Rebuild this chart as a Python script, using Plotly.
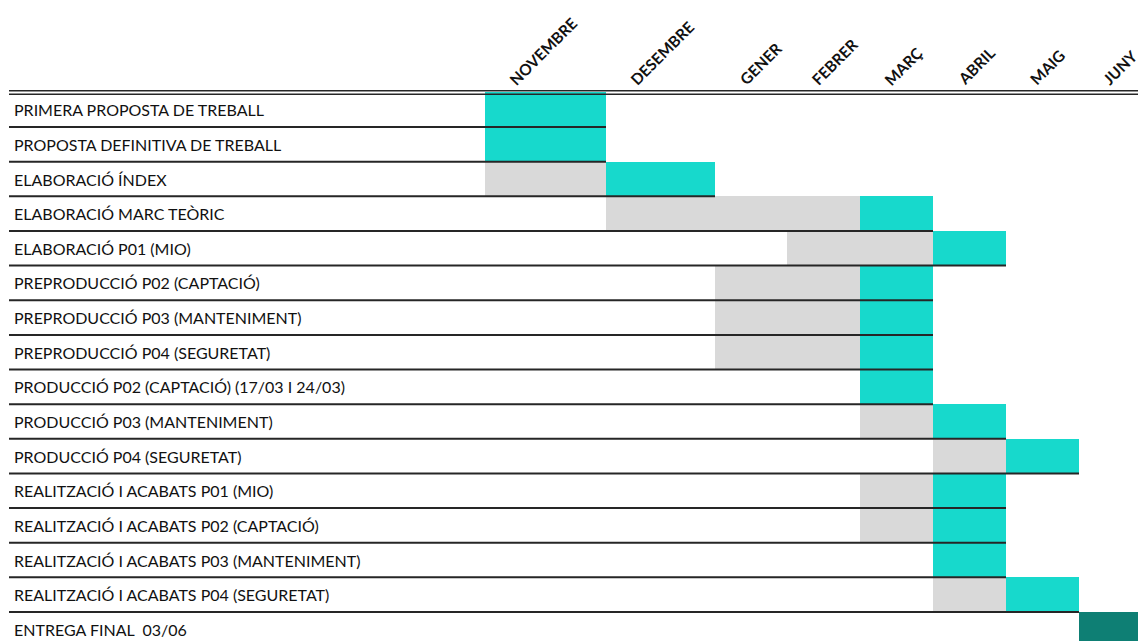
import plotly.graph_objects as go

# ---------------- data ----------------
months = ["NOVEMBRE", "DESEMBRE", "GENER", "FEBRER", "MARÇ", "ABRIL", "MAIG", "JUNY"]

tasks = [
    "PRIMERA PROPOSTA DE TREBALL",
    "PROPOSTA DEFINITIVA DE TREBALL",
    "ELABORACIÓ ÍNDEX",
    "ELABORACIÓ MARC TEÒRIC",
    "ELABORACIÓ P01 (MIO)",
    "PREPRODUCCIÓ P02 (CAPTACIÓ)",
    "PREPRODUCCIÓ P03 (MANTENIMENT)",
    "PREPRODUCCIÓ P04 (SEGURETAT)",
    "PRODUCCIÓ P02 (CAPTACIÓ) (17/03 I 24/03)",
    "PRODUCCIÓ P03 (MANTENIMENT)",
    "PRODUCCIÓ P04 (SEGURETAT)",
    "REALITZACIÓ I ACABATS P01 (MIO)",
    "REALITZACIÓ I ACABATS P02 (CAPTACIÓ)",
    "REALITZACIÓ I ACABATS P03 (MANTENIMENT)",
    "REALITZACIÓ I ACABATS P04 (SEGURETAT)",
    "ENTREGA FINAL  03/06",
]

# month indices (0 = NOVEMBRE ... 7 = JUNY); None = no preparatory phase
prep_start = [None, None, 0, 1, 3, 2, 2, 2, None, 4, 5, 4, 4, None, 5, None]
active_start = [0, 0, 1, 4, 5, 4, 4, 4, 4, 5, 6, 5, 5, 5, 6, 7]
active_end = [1, 1, 2, 5, 6, 5, 5, 5, 5, 6, 7, 6, 6, 6, 7, 8]
is_final = [False] * 15 + [True]

# ---------------- layout / style ----------------
W, H = 1138, 641
label_col = 485            # px width of the task-label column
col_widths = [121, 109, 72, 73, 73, 73, 73, 73]
row_h = 34.64
table_top = 92.4

edges = [0]
for w in col_widths:
    edges.append(edges[-1] + w)

TEAL = "#17D9CC"
GREY = "#D9D9D9"
DARK = "#0E7F74"
LINE = "#262626"
FONT = "Lato"

x_left = -label_col
x_right = W - label_col
y_top = -table_top / row_h
y_bot = (H - table_top) / row_h

fig = go.Figure()

def add_bars(starts, ends, rows, color):
    fig.add_trace(go.Bar(
        orientation="h",
        y=[r + 0.5 for r in rows],
        base=starts,
        x=[e - s for s, e in zip(starts, ends)],
        width=1,
        marker=dict(color=color, line=dict(width=0)),
        hoverinfo="skip",
        showlegend=False,
    ))

gs, ge, gr = [], [], []
ts, te, tr = [], [], []
ds, de, dr = [], [], []
for i in range(len(tasks)):
    if prep_start[i] is not None:
        gs.append(edges[prep_start[i]]); ge.append(edges[active_start[i]]); gr.append(i)
    if is_final[i]:
        ds.append(edges[active_start[i]]); de.append(edges[active_end[i]]); dr.append(i)
    else:
        ts.append(edges[active_start[i]]); te.append(edges[active_end[i]]); tr.append(i)

add_bars(gs, ge, gr, GREY)
add_bars(ts, te, tr, TEAL)
add_bars(ds, de, dr, DARK)

# row separator lines: from label start to the end of the row's bar
lx, ly = [], []
line_x0 = 9 - label_col
for i in range(len(tasks) - 1):
    lx += [line_x0, edges[active_end[i]], None]
    ly += [i + 1, i + 1, None]
fig.add_trace(go.Scatter(x=lx, y=ly, mode="lines",
                         line=dict(color=LINE, width=2),
                         hoverinfo="skip", showlegend=False))

# double header line
for ypx in (90.8, 94.2):
    yv = (ypx - table_top) / row_h
    fig.add_trace(go.Scatter(x=[line_x0, x_right], y=[yv, yv], mode="lines",
                             line=dict(color=LINE, width=1.5),
                             hoverinfo="skip", showlegend=False))

annotations = []
for i, t in enumerate(tasks):
    annotations.append(dict(
        x=12 - label_col, y=i + 0.5, xref="x", yref="y",
        text=t, showarrow=False, xanchor="left", yanchor="middle",
        font=dict(family=FONT, size=16, color="#111111"),
    ))

for m, name in enumerate(months):
    annotations.append(dict(
        x=edges[m] + 18, y=(91 - table_top) / row_h, xref="x", yref="y",
        text="<b>" + name + "</b>", showarrow=False, textangle=-45,
        xanchor="left", yanchor="bottom",
        font=dict(family=FONT, size=15.5, color="#111111"),
    ))

fig.update_layout(
    width=W, height=H,
    margin=dict(l=0, r=0, t=0, b=0),
    paper_bgcolor="white", plot_bgcolor="white",
    barmode="overlay", bargap=0,
    xaxis=dict(range=[x_left, x_right], visible=False, fixedrange=True),
    yaxis=dict(range=[y_bot, y_top], visible=False, fixedrange=True),
    annotations=annotations,
    showlegend=False,
)

fig.write_html("out.html", config={"displayModeBar": False},
               post_script="document.body.style.margin='0';document.body.style.overflow='hidden';")
